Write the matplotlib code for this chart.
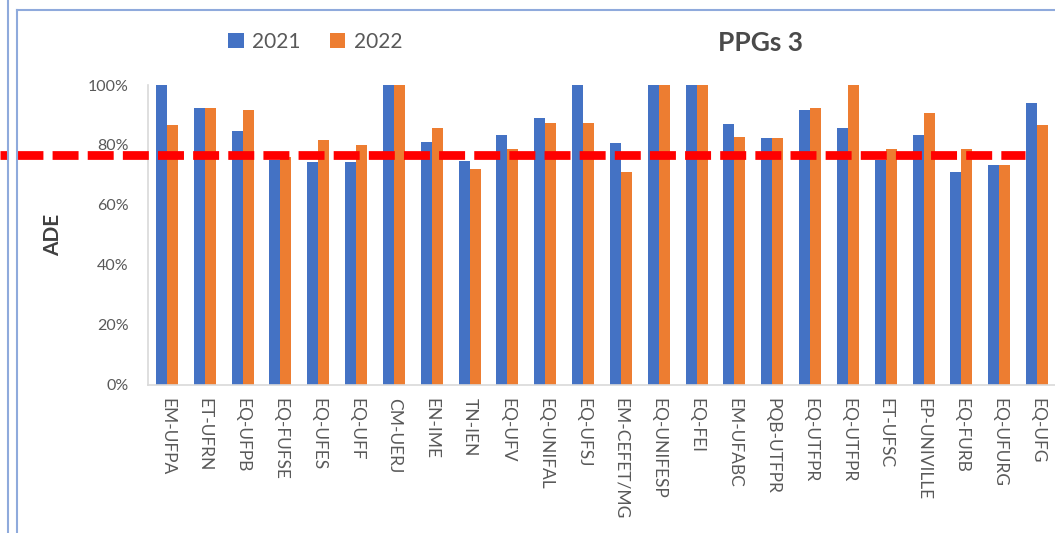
import matplotlib.pyplot as plt
import numpy as np
from matplotlib.lines import Line2D

# Dados (ADE por PPG)
programas = ['EM-UFPA', 'ET-UFRN', 'EQ-UFPB', 'EQ-FUFSE', 'EQ-UFES', 'EQ-UFF',
             'CM-UERJ', 'EN-IME', 'TN-IEN', 'EQ-UFV', 'EQ-UNIFAL', 'EQ-UFSJ',
             'EM-CEFET/MG', 'EQ-UNIFESP', 'EQ-FEI', 'EM-UFABC', 'PQB-UTFPR',
             'EQ-UTFPR', 'EQ-UTFPR', 'ET-UFSC', 'EP-UNIVILLE', 'EQ-FURB',
             'EQ-UFURG', 'EQ-UFG']
ade_2021 = [1.00, 0.924, 0.847, 0.75, 0.744, 0.744, 1.00, 0.811, 0.747, 0.833,
            0.889, 1.00, 0.806, 1.00, 1.00, 0.870, 0.822, 0.917, 0.856, 0.75,
            0.833, 0.711, 0.733, 0.939]
ade_2022 = [0.867, 0.924, 0.917, 0.76, 0.817, 0.80, 1.00, 0.858, 0.72, 0.786,
            0.872, 0.872, 0.711, 1.00, 1.00, 0.828, 0.822, 0.922, 1.00, 0.786,
            0.908, 0.786, 0.733, 0.867]
anos = ['2021', '2022']
limite = 0.767

AZUL = '#4472C4'
LARANJA = '#ED7D31'
CINZA = '#595959'

plt.rcParams['font.family'] = ['Lato', 'DejaVu Sans']
plt.rcParams['lines.scale_dashes'] = False

fig = plt.figure(figsize=(10.55, 5.33), dpi=100)
ax = fig.add_axes([148 / 1055, 148 / 533, 908 / 1055, 300 / 533])

x = np.arange(len(programas))
larg = 0.29
b1 = ax.bar(x - larg / 2, ade_2021, larg, color=AZUL, label=anos[0])
b2 = ax.bar(x + larg / 2, ade_2022, larg, color=LARANJA, label=anos[1])

ax.set_xlim(-0.5, len(programas) - 0.5)
ax.set_ylim(0, 1.0)
ax.set_yticks(np.arange(0, 1.01, 0.2))
ax.set_yticklabels(['%d%%' % round(v * 100) for v in np.arange(0, 1.01, 0.2)])
ax.set_xticks(x)
ax.set_xticklabels(programas, rotation=270, ha='center', va='top')
ax.tick_params(axis='y', length=0, pad=14, labelsize=11.5, labelcolor=CINZA)
ax.tick_params(axis='x', length=0, pad=9, labelsize=12.5, labelcolor=CINZA)

for lado in ['top', 'right']:
    ax.spines[lado].set_visible(False)
ax.spines['left'].set_color('#D9D9D9')
ax.spines['bottom'].set_color('#D9D9D9')
ax.spines['left'].set_linewidth(1.2)
ax.spines['bottom'].set_linewidth(1.2)

ax.set_ylabel('ADE', fontsize=15, fontweight='bold', color='#404040')
ax.yaxis.set_label_coords((63 - 148) / 908, 0.5)

fig.text(761 / 1055, 1 - 43 / 533, 'PPGs 3', fontsize=19, fontweight='bold',
         color='#4a4a4a', ha='center', va='center')

fig.legend(handles=[b1, b2], loc='center', bbox_to_anchor=(315 / 1055, 1 - 42 / 533),
           ncol=2, frameon=False, fontsize=15, labelcolor=CINZA,
           handlelength=0.75, handleheight=0.75, handletextpad=0.4, columnspacing=1.4)

# linha de referência tracejada
ax.axhline(limite, xmin=-148 / 908, xmax=(1025 - 148) / 908, color='#FF0000',
           linewidth=6.3, linestyle=(13.1, (18.7, 6.6)), clip_on=False, zorder=5)

# bordas dos painéis
cor_borda = '#8FAADC'
fig.add_artist(Line2D([8 / 1055, 8 / 1055], [0, 1], color=cor_borda, lw=1.5))
fig.add_artist(Line2D([17 / 1055, 17 / 1055], [0, 1 - 10 / 533], color=cor_borda, lw=1.5))
fig.add_artist(Line2D([17 / 1055, 1], [1 - 10 / 533, 1 - 10 / 533], color=cor_borda, lw=1.5))

fig.savefig('out.png', dpi=100)
